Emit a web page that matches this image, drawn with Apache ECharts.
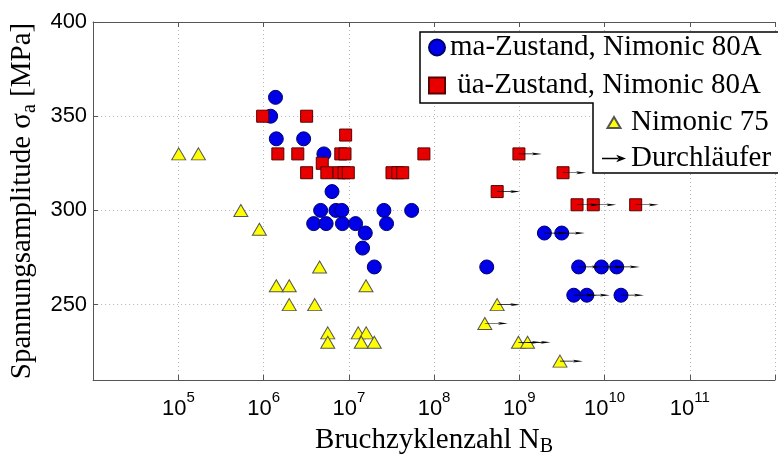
<!DOCTYPE html>
<html>
<head>
<meta charset="utf-8">
<script src="https://cdn.jsdelivr.net/npm/echarts@6/dist/echarts.min.js"></script>
<style>
  html, body { margin: 0; padding: 0; background: #fff; }
  #chart { width: 778px; height: 462px; }
</style>
</head>
<body>
<div id="chart"></div>
<script>
// Fatigue data: cycles to failure N_B and stress amplitude sigma_a [MPa]
// Run flag 1 = runout (test stopped without failure, "Durchläufer")

// ma-Zustand, Nimonic 80A
const maN = [1.38e6, 1.21e6, 1.41e6, 2.95e6, 5.1e6, 6.35e6,
             4.67e6, 7.06e6, 8.27e6, 2.58e7, 5.46e7,
             3.87e6, 5.42e6, 8.42e6, 1.2e7, 2.77e7,
             1.56e7, 1.45e7, 1.99e7, 4.15e8,
             1.97e9, 3.15e9, 4.97e9, 9.2e9, 1.39e10, 4.36e9, 6.2e9, 1.56e10];
const maS = [360, 350, 338, 338, 330, 310,
             300, 300, 300, 300, 300,
             293, 293, 293, 293, 293,
             288, 280, 270, 270,
             288, 288, 270, 270, 270, 255, 255, 255];
const maRun = [0, 0, 0, 0, 0, 0, 0, 0, 0, 0, 0, 0, 0, 0, 0, 0, 0, 0, 0, 0,
               1, 1, 1, 1, 1, 1, 1, 1];

// üa-Zustand, Nimonic 80A
const uaN = [9.75e5, 3.2e6, 9.18e6, 1.47e6, 2.52e6, 8.05e6, 9.02e6, 7.6e7,
             4.88e6, 3.2e6, 5.52e6, 7.69e6, 8.79e6, 9.86e6, 3.21e7, 3.76e7, 4.29e7,
             9.9e8, 3.26e9, 5.5e8, 4.76e9, 7.38e9, 2.32e10];
const uaS = [350, 350, 340, 330, 330, 330, 330, 330,
             325, 320, 320, 320, 320, 320, 320, 320, 320,
             330, 320, 310, 303, 303, 303];
const uaRun = [0, 0, 0, 0, 0, 0, 0, 0, 0, 0, 0, 0, 0, 0, 0, 0, 0,
               1, 1, 1, 1, 1, 1];

// Nimonic 75
const n75N = [1.01e5, 1.72e5, 5.41e5, 8.93e5, 4.54e6, 1.41e6, 2.0e6, 1.59e7,
              2.0e6, 3.98e6, 5.66e6, 1.29e7, 1.6e7, 5.66e6, 1.4e7, 1.99e7,
              5.5e8, 3.94e8, 9.77e8, 1.25e9, 3.0e9];
const n75S = [330, 330, 300, 290, 270, 260, 260, 260,
              250, 250, 235, 235, 235, 230, 230, 230,
              250, 240, 230, 230, 220];
const n75Run = [0, 0, 0, 0, 0, 0, 0, 0, 0, 0, 0, 0, 0, 0, 0, 0,
                1, 1, 1, 1, 1];

// Axis ticks
const xTickExponents = [5, 6, 7, 8, 9, 10, 11];
const yTicks = [250, 300, 350, 400];

const NAME_MA = 'ma-Zustand, Nimonic 80A';
const NAME_UA = 'üa-Zustand, Nimonic 80A';
const NAME_N75 = 'Nimonic 75';
const NAME_RUN = 'Durchläufer';

// Right-pointing arrow: shaft starting at the point, notched head
const ARROW = 'path://M0,3 L15,3 L15,5 L0,5 Z M13,0 L23,4 L13,8 L15.5,4 Z';
// Thinner arrow for the legend entry
const LEGEND_ARROW = 'path://M0,3.4 L15,3.4 L15,4.6 L0,4.6 Z M13,0.5 L22,4 L13,7.5 L15.5,4 Z';
// Small triangle centred in a 24x14 legend slot (the bare moves pad the box)
const LEGEND_TRIANGLE = 'path://M5.5,12.5 L12,1.5 L18.5,12.5 Z M0,0 M24,14';

const pairs = (xs, ys) => xs.map((x, i) => [x, ys[i]]);
const runouts = [];
[[maN, maS, maRun], [uaN, uaS, uaRun], [n75N, n75S, n75Run]].forEach(([xs, ys, rs]) => {
  xs.forEach((x, i) => { if (rs[i]) runouts.push([x, ys[i]]); });
});

const SERIF = 'Liberation Serif';
const SANS = 'Liberation Sans';
const axisGray = '#555';
const gridLine = { show: true, lineStyle: { color: '#b4b4b4', width: 1, type: [1, 3] } };
const legendText = { fontFamily: SERIF, fontSize: 29, color: '#000', fontWeight: 'normal' };

const chart = echarts.init(document.getElementById('chart'), null, { renderer: 'canvas' });

chart.setOption({
  animation: false,
  backgroundColor: '#fff',
  textStyle: { fontFamily: SERIF },
  grid: { left: 92, top: 22, width: 697, height: 362, containLabel: false },
  xAxis: [
    {
      type: 'log', logBase: 10, min: 1e4, max: 1e12, splitNumber: 8,
      position: 'bottom',
      axisLine: { show: true, lineStyle: { color: axisGray, width: 1 } },
      axisTick: { show: true, inside: true, length: 5, lineStyle: { color: axisGray } },
      minorTick: { show: false },
      splitLine: gridLine,
      axisLabel: {
        margin: 10,
        formatter: (v) => {
          const e = Math.round(Math.log10(v));
          return xTickExponents.includes(e) ? '{b|10}{s|' + e + '}' : '';
        },
        rich: {
          b: { fontFamily: SANS, fontSize: 22, color: '#000', lineHeight: 30, verticalAlign: 'bottom' },
          s: { fontFamily: SANS, fontSize: 15, color: '#000', lineHeight: 8, verticalAlign: 'top' }
        }
      },
      name: '{t|Bruchzyklenzahl N}{s|B}',
      nameLocation: 'middle',
      nameGap: 43,
      nameTextStyle: {
        rich: {
          t: { fontFamily: SERIF, fontSize: 29, color: '#000', lineHeight: 34, verticalAlign: 'middle' },
          s: { fontFamily: SERIF, fontSize: 20, color: '#000', lineHeight: 12, verticalAlign: 'bottom' }
        }
      }
    },
    {
      type: 'log', logBase: 10, min: 1e4, max: 1e12, splitNumber: 8,
      position: 'top',
      axisLine: { show: true, lineStyle: { color: axisGray, width: 1 } },
      axisTick: { show: true, inside: true, length: 5, lineStyle: { color: axisGray } },
      axisLabel: { show: false },
      splitLine: { show: false }
    }
  ],
  yAxis: {
    type: 'value', min: 210, max: 400,
    axisLine: { show: true, lineStyle: { color: axisGray, width: 1 } },
    axisTick: { show: true, inside: true, length: 5, lineStyle: { color: axisGray }, customValues: yTicks },
    splitLine: gridLine,
    axisLabel: {
      customValues: yTicks,
      margin: 6,
      fontFamily: SANS, fontSize: 22, color: '#000'
    },
    name: '{t|Spannungsamplitude σ}{s|a}{t| [MPa]}',
    nameLocation: 'middle',
    nameRotate: 90,
    nameGap: 45,
    nameTextStyle: {
      rich: {
        t: { fontFamily: SERIF, fontSize: 29, color: '#000', lineHeight: 34, verticalAlign: 'middle' },
        s: { fontFamily: SERIF, fontSize: 20, color: '#000', lineHeight: 12, verticalAlign: 'bottom' }
      }
    }
  },
  legend: [
    {
      data: [
        { name: NAME_MA, icon: 'circle', textStyle: legendText },
        { name: NAME_UA, icon: 'rect', textStyle: legendText }
      ],
      orient: 'vertical', left: 428, top: 33,
      itemWidth: 16, itemHeight: 16, itemGap: 9, padding: 0,
      selectedMode: false,
      formatter: (n) => (n === NAME_UA ? ' ' + n : n),
      textStyle: legendText
    },
    {
      data: [
        { name: NAME_N75, icon: LEGEND_TRIANGLE, textStyle: legendText },
        { name: NAME_RUN, icon: LEGEND_ARROW, textStyle: legendText }
      ],
      orient: 'vertical', left: 601, top: 108,
      itemWidth: 24, itemHeight: 14, itemGap: 7, padding: 0,
      selectedMode: false,
      textStyle: legendText
    }
  ],
  graphic: {
    elements: [
      {
        // legend frame (two stacked boxes sharing one outline)
        type: 'polygon', z: 3,
        shape: { points: [[420, 32], [792, 32], [792, 173], [593, 173], [593, 103], [420, 103]] },
        style: { fill: '#fff', stroke: '#000', lineWidth: 1.5 }
      }
    ]
  },
  series: [
    {
      name: NAME_MA, type: 'scatter', symbol: 'circle', symbolSize: 14,
      itemStyle: { color: '#0000e8', borderColor: '#00006a', borderWidth: 1, opacity: 1 },
      data: pairs(maN, maS)
    },
    {
      name: NAME_UA, type: 'scatter', symbol: 'rect', symbolSize: 12,
      itemStyle: { color: '#e80000', borderColor: '#5a0000', borderWidth: 1, opacity: 1 },
      data: pairs(uaN, uaS)
    },
    {
      name: NAME_N75, type: 'scatter', symbol: 'triangle', symbolSize: [14, 12],
      itemStyle: { color: '#ffff00', borderColor: '#555', borderWidth: 1, opacity: 1 },
      data: pairs(n75N, n75S)
    },
    {
      name: NAME_RUN, type: 'scatter', symbol: ARROW, symbolSize: [23, 8],
      symbolOffset: [11.5, 0], symbolKeepAspect: true, z: 2.5,
      itemStyle: { color: '#000', opacity: 1 },
      data: runouts
    }
  ]
});
</script>
</body>
</html>
